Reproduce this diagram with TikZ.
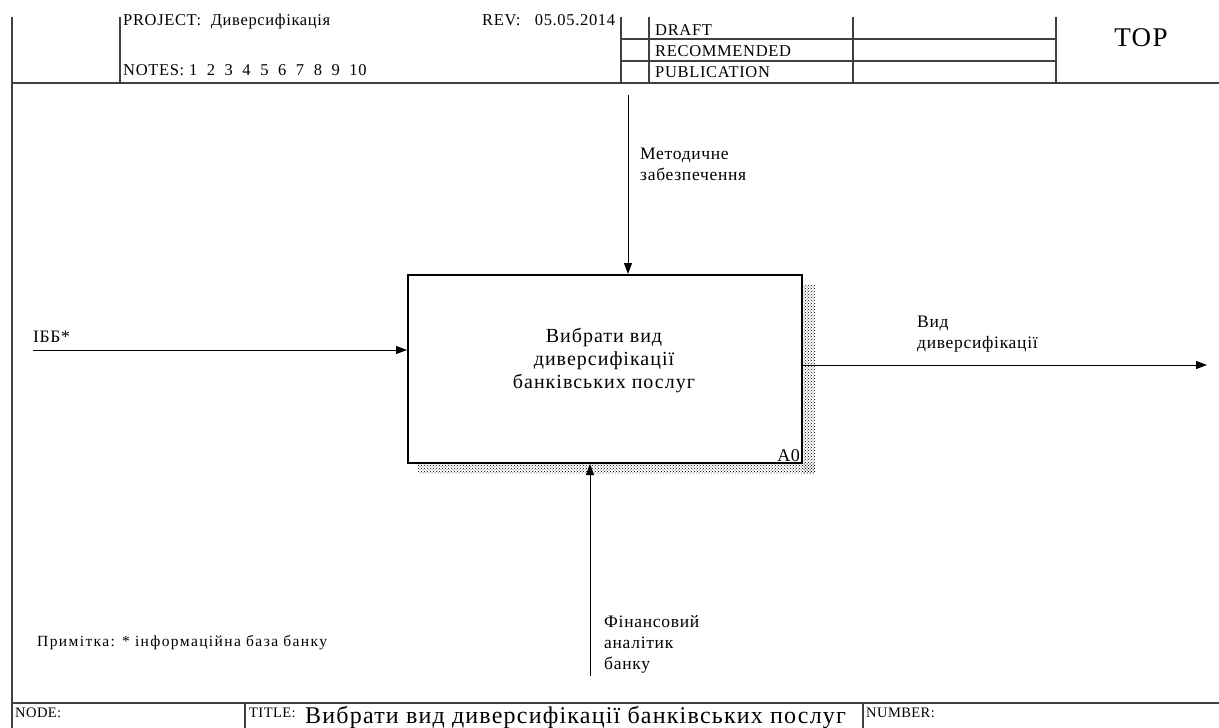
\documentclass[tikz,border=0pt]{standalone}
\usepackage{fontspec}
\setmainfont{Liberation Serif}
\usetikzlibrary{arrows.meta,patterns}
\newcommand{\spaced}[1]{\addfontfeature{LetterSpace=#1}}
\begin{document}
\begin{tikzpicture}[x=1pt,y=-1pt,
  frame/.style={line width=1.3pt, draw=black!75},
  flow/.style={line width=0.9pt, -{Triangle[length=11pt,width=8pt]}},
  lbl/.style={font=\fontsize{17.5}{21}\selectfont\spaced{4}, align=left, anchor=north west, inner sep=0pt},
  hdr/.style={font=\fontsize{16.5}{18}\selectfont\spaced{4}, anchor=base west, inner sep=0pt},
  ftr/.style={font=\fontsize{14.5}{16}\selectfont\spaced{3}, anchor=base west, inner sep=0pt},
]
\useasboundingbox[fill=white] (0,0) rectangle (1219,728);

% header frame
\draw[frame] (12,17) -- (12,728);
\draw[frame] (12,83) -- (1219,83);
\draw[frame] (120,17) -- (120,83);
\draw[frame] (621,17) -- (621,83);
\draw[frame] (649,17) -- (649,83);
\draw[frame] (853,17) -- (853,83);
\draw[frame] (1056,17) -- (1056,83);
\draw[frame] (621,39) -- (1056,39);
\draw[frame] (621,61) -- (1056,61);

% header texts
\node[hdr] (proj) at (123,25) {PROJECT:\ \ Диверсифікація};
\node[hdr] (notes) at (123,75) {NOTES:\ 1\ \ 2\ \ 3\ \ 4\ \ 5\ \ 6\ \ 7\ \ 8\ \ 9\ \ 10};
\node[hdr] (rev) at (482,25) {REV:\ \ \ 05.05.2014};
\node[hdr] (draft) at (655,35.5) {DRAFT};
\node[hdr] (recom) at (655,56.5) {RECOMMENDED};
\node[hdr] (publ) at (655,77.5) {PUBLICATION};
\node[font=\fontsize{27}{30}\selectfont\spaced{5}, inner sep=0pt] (top) at (1141,38) {TOP};

% footer frame
\draw[frame] (12,703) -- (1219,703);
\draw[frame] (245,703) -- (245,728);
\draw[frame] (863,703) -- (863,728);
\node[ftr] (nodelbl) at (15,717) {NODE:};
\node[ftr] (titlelbl) at (249,717) {TITLE:};
\node[ftr] (numlbl) at (866,717) {NUMBER:};
\node[font=\fontsize{24}{26}\selectfont\spaced{5}, anchor=base west, inner sep=0pt] (title) at (305,723) {Вибрати вид диверсифікації банківських послуг};

% activity box with its shadow
\fill[pattern=crosshatch dots, pattern color=black] (803,285) rectangle (815,473);
\fill[pattern=crosshatch dots, pattern color=black] (418,463) rectangle (815,473);
\node[draw, line width=2pt, fill=white, minimum width=394pt, minimum height=188pt, inner sep=0pt, anchor=north west] (box) at (407,274) {};
\node[font=\fontsize{20}{23}\selectfont\spaced{5}, align=center, inner sep=0pt] (boxtext) at (604,360) {Вибрати вид\\диверсифікації\\банківських послуг};
\node[font=\fontsize{18}{20}\selectfont\spaced{3}, anchor=south east, inner sep=0pt, xshift=-3pt, yshift=2pt] (a0) at (box.south east) {A0};

% arrow end points
\coordinate (ctrl) at (628,95);
\coordinate (inp) at (33,350);
\coordinate (outp) at (1207,365);
\coordinate (mech) at (590,676);

% connectors
\draw[flow] (ctrl) -- (ctrl |- box.north);
\draw[flow] (inp) -- (inp -| box.west);
\draw[flow] (outp -| box.east) -- (outp);
\draw[flow] (mech) -- (mech |- box.south);

% connector labels
\node[lbl] (ctrllbl) at (640,148) {Методичне\\забезпечення};
\node[lbl] (inplbl) at (33,331) {ІББ*};
\node[lbl] (outlbl) at (917,316) {Вид\\диверсифікації};
\node[lbl] (mechlbl) at (604,615) {Фінансовий\\аналітик\\банку};

% note
\node[font=\fontsize{15.5}{17}\selectfont\spaced{9}, anchor=base west, inner sep=0pt] (note) at (37,646) {Примітка: * інформаційна база банку};
\end{tikzpicture}
\end{document}
